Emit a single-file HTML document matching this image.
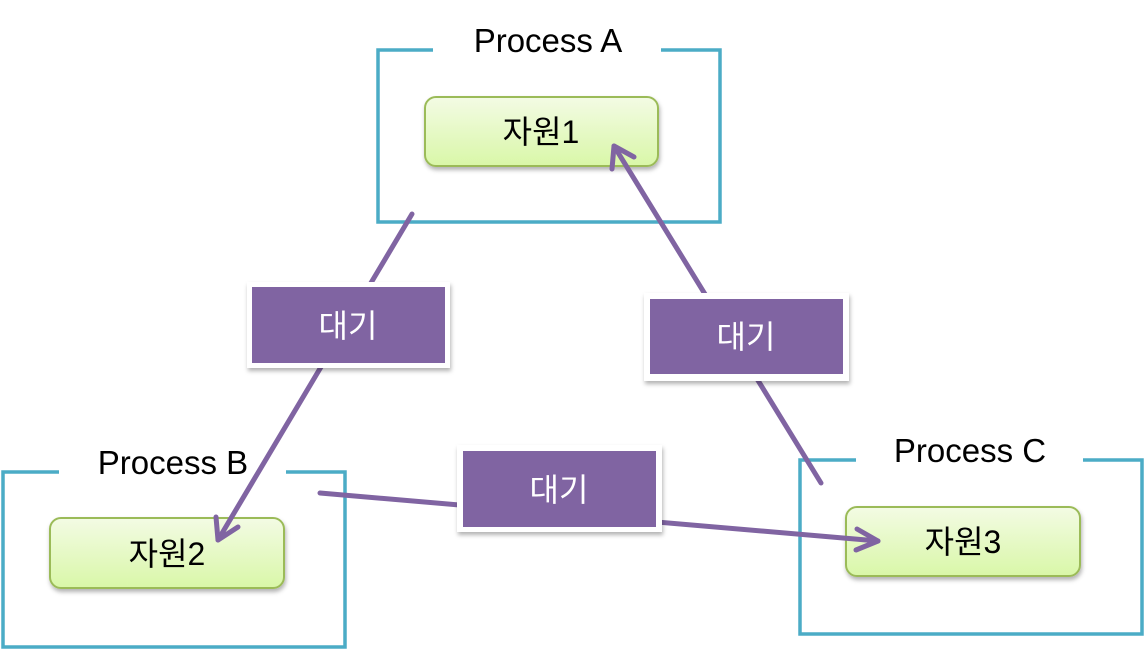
<!DOCTYPE html>
<html><head><meta charset="utf-8"><style>
html,body{margin:0;padding:0;background:#fff;}
svg text{font-family:"Liberation Sans","Noto Sans CJK KR",sans-serif;}
</style></head><body>
<svg width="1146" height="650" viewBox="0 0 1146 650" xmlns="http://www.w3.org/2000/svg">
<defs>
<linearGradient id="g" x1="0" y1="0" x2="0" y2="1">
<stop offset="0" stop-color="#f3fbe4"/><stop offset="1" stop-color="#d9f7a8"/>
</linearGradient>
<filter id="sh" x="-10%" y="-10%" width="130%" height="140%"><feDropShadow dx="1" dy="3" stdDeviation="2" flood-color="#000" flood-opacity="0.3"/></filter>
</defs>
<g fill="none" stroke="#4bacc6" stroke-width="3.5">
<path d="M433 50 H378 V222 H720 V50 H661"/>
<path d="M59 472 H3 V647 H345 V472 H286"/>
<path d="M856 460 H800 V634 H1142 V460 H1083"/>
</g>
<g font-size="33" fill="#000" text-anchor="middle">
<text x="548" y="52">Process A</text>
<text x="173" y="474">Process B</text>
<text x="970" y="462">Process C</text>
</g>
<g fill="url(#g)" stroke="#9bbb59" stroke-width="2" filter="url(#sh)">
<rect x="425" y="97" width="233" height="69" rx="11"/>
<rect x="50" y="518" width="234" height="70" rx="11"/>
<rect x="846" y="507" width="234" height="69" rx="11"/>
</g>
<g font-size="32" fill="#000" text-anchor="middle">
<text x="541" y="143">자원1</text>
<text x="167" y="565">자원2</text>
<text x="963" y="553">자원3</text>
</g>
<g stroke="#8064a2" stroke-width="5" stroke-linecap="round" fill="none" stroke-linejoin="round">
<line x1="412" y1="214" x2="218" y2="540"/>
<path d="M216 517 L218 540 L238 527"/>
<line x1="821" y1="483" x2="614" y2="146"/>
<path d="M612 169 L614 146 L634 157"/>
<line x1="320" y1="493" x2="878" y2="541"/>
<path d="M857 529 L878 541 L856 550"/>
</g>
<g filter="url(#sh)">
<rect x="247" y="282" width="203" height="86" fill="#fff"/>
<rect x="644" y="293" width="205" height="88" fill="#fff"/>
<rect x="457" y="445" width="205" height="87" fill="#fff"/>
</g>
<g fill="#8064a2">
<rect x="252" y="287" width="193" height="76"/>
<rect x="650" y="299" width="193" height="75"/>
<rect x="463" y="451" width="193" height="76"/>
</g>
<g font-size="32" fill="#fff" text-anchor="middle">
<text x="348" y="337">대기</text>
<text x="746" y="348">대기</text>
<text x="559" y="501">대기</text>
</g>
</svg>
</body></html>
